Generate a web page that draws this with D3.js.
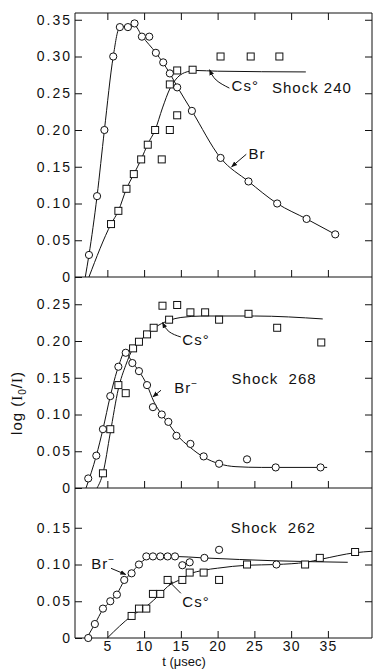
<!DOCTYPE html>
<html>
<head>
<meta charset="utf-8">
<script src="https://cdn.jsdelivr.net/npm/d3@7"></script>
<style>
  body { margin: 0; background: #fff; }
  svg { display: block; }
  text { font-family: "Liberation Sans", Arial, sans-serif; fill: #111; }
  .tick text { font-size: 14px; letter-spacing: 2px; }
  .xlab .tick text { font-size: 14px; letter-spacing: 1px; }
  .note { font-size: 15px; letter-spacing: 1px; }
</style>
</head>
<body>
<svg id="chart" width="373" height="670"></svg>
<script>
// time axis ticks (microseconds)
const tTicks = [5, 10, 15, 20, 25, 30, 35];

// Shock 240
const ticks240 = [0, 0.05, 0.10, 0.15, 0.20, 0.25, 0.30, 0.35];
const br240T = [2.5, 3.6, 4.6, 5.8, 6.7, 7.8, 8.7, 9.7, 10.7, 11.6, 12.6, 13.5, 14.5, 16.5, 20.4, 24.2, 28.1, 32.1, 36.0];
const br240V = [0.03, 0.11, 0.20, 0.30, 0.34, 0.34, 0.345, 0.327, 0.327, 0.305, 0.292, 0.277, 0.258, 0.226, 0.162, 0.13, 0.10, 0.079, 0.058];
const cs240T = [5.5, 6.5, 7.6, 8.6, 9.6, 12.4, 10.5, 11.5, 13.5, 14.5, 13.5, 14.5, 16.6, 20.4, 24.5, 28.4];
const cs240V = [0.072, 0.09, 0.12, 0.14, 0.16, 0.16, 0.18, 0.20, 0.20, 0.22, 0.262, 0.281, 0.282, 0.30, 0.30, 0.30];
const br240Fit = [[2.0, 0], [2.5, 0.03], [3.6, 0.11], [4.6, 0.20], [5.8, 0.30], [6.6, 0.338], [7.8, 0.342], [8.7, 0.342], [9.7, 0.328], [11.6, 0.305], [13.5, 0.277], [14.5, 0.259], [16.5, 0.226], [20.4, 0.162], [24.2, 0.13], [28.1, 0.10], [32.1, 0.079], [36.0, 0.058]];
const cs240Fit = [[2.5, 0], [5.5, 0.072], [6.5, 0.09], [7.6, 0.12], [8.6, 0.14], [9.6, 0.16], [10.5, 0.181], [11.5, 0.20], [12.5, 0.23], [13.5, 0.256], [14.5, 0.271], [15.5, 0.278], [17, 0.281], [20, 0.28], [32, 0.279]];

// Shock 268
const ticks268 = [0, 0.05, 0.10, 0.15, 0.20, 0.25];
const br268T = [2.4, 3.5, 4.4, 5.4, 6.5, 7.5, 8.4, 9.3, 10.4, 11.2, 12.4, 13.3, 14.4, 16.3, 18.1, 20.2, 24.0, 27.9, 34.0];
const br268V = [0.013, 0.044, 0.08, 0.125, 0.165, 0.184, 0.17, 0.159, 0.14, 0.11, 0.10, 0.09, 0.071, 0.06, 0.043, 0.033, 0.039, 0.028, 0.028];
const cs268T = [4.4, 5.4, 7.5, 6.5, 8.5, 9.3, 10.4, 11.3, 13.4, 12.5, 14.5, 16.3, 18.3, 20.2, 24.2, 28.1, 34.1];
const cs268V = [0.02, 0.08, 0.129, 0.14, 0.19, 0.199, 0.209, 0.218, 0.229, 0.248, 0.249, 0.239, 0.239, 0.229, 0.237, 0.218, 0.198];
const br268Fit = [[2.1, 0], [3.5, 0.044], [4.4, 0.08], [5.4, 0.125], [6.5, 0.165], [7.4, 0.185], [8.4, 0.171], [9.3, 0.159], [10.4, 0.14], [11.3, 0.118], [12.4, 0.10], [13.3, 0.088], [14.4, 0.073], [16.3, 0.055], [18.1, 0.042], [20.2, 0.033], [22.5, 0.029], [26, 0.028], [34.9, 0.028]];
const cs268Fit = [[3.6, 0], [4.4, 0.02], [5.4, 0.075], [6.5, 0.135], [7.5, 0.167], [8.5, 0.19], [9.3, 0.199], [10.4, 0.209], [11.3, 0.217], [13.4, 0.228], [15, 0.232], [18, 0.234], [25, 0.234], [34.3, 0.23]];

// Shock 262
const ticks262 = [0, 0.05, 0.10, 0.15];
const br262T = [2.4, 3.3, 4.4, 5.4, 6.3, 7.3, 8.3, 9.3, 10.3, 11.2, 12.2, 13.2, 14.2, 15.2, 16.2, 18.2, 20.2, 28.0];
const br262V = [0, 0.019, 0.04, 0.05, 0.059, 0.079, 0.088, 0.10, 0.111, 0.111, 0.111, 0.111, 0.111, 0.099, 0.103, 0.109, 0.12, 0.10];
const cs262T = [8.3, 9.3, 10.3, 11.2, 12.2, 13.2, 15.2, 16.2, 18.1, 20.2, 24.0, 31.9, 33.9, 38.7];
const cs262V = [0.03, 0.04, 0.04, 0.06, 0.06, 0.079, 0.079, 0.089, 0.089, 0.079, 0.10, 0.10, 0.109, 0.117];
const br262Fit = [[2.2, 0], [3.3, 0.019], [4.4, 0.039], [5.4, 0.05], [6.3, 0.06], [7.3, 0.078], [8.3, 0.089], [9.3, 0.10], [10.3, 0.108], [11.5, 0.111], [14, 0.111], [18, 0.109], [28, 0.105], [37.7, 0.103]];
const cs262Fit = [[5.0, 0], [8.3, 0.03], [10.3, 0.043], [12.2, 0.06], [13.2, 0.07], [15.2, 0.081], [16.2, 0.087], [18, 0.092], [20, 0.095], [24, 0.099], [28, 0.10], [32, 0.103], [34, 0.107], [38.7, 0.116], [41, 0.118]];

const svg = d3.select('#chart');

const x = d3.scaleLinear().domain([0.6, 41.0]).range([75, 372]);
const pxPerUnit = 735;

const panels = [
  { top: 13, zero: 277, ticks: ticks240, br: [br240T, br240V], cs: [cs240T, cs240V], brFit: br240Fit, csFit: cs240Fit,
    notes: [
      { text: 'Shock 240', t: 27.4, v: 0.250 },
      { text: 'Cs', sup: '°', t: 21.9, v: 0.253 },
      { text: 'Br', t: 24.2, v: 0.160 }
    ],
    leaders: [
      { pts: [[21.6, 0.257], [19.8, 0.268], [18.9, 0.282]], curved: true },
      { pts: [[23.9, 0.167], [21.9, 0.150]] }
    ] },
  { top: 277, zero: 488, ticks: ticks268, br: [br268T, br268V], cs: [cs268T, cs268V], brFit: br268Fit, csFit: cs268Fit,
    notes: [
      { text: 'Shock  268', t: 21.9, v: 0.1415 },
      { text: 'Cs', sup: '°', t: 15.2, v: 0.1946 },
      { text: 'Br', sup: '\u2212', t: 14.1, v: 0.129 }
    ],
    leaders: [
      { pts: [[15.0, 0.2054], [13.4, 0.2127], [12.5, 0.225]], curved: true },
      { pts: [[12.3, 0.133], [11.2, 0.124]] }
    ] },
  { top: 488, zero: 638, ticks: ticks262, br: [br262T, br262V], cs: [cs262T, cs262V], brFit: br262Fit, csFit: cs262Fit,
    notes: [
      { text: 'Shock  262', t: 21.8, v: 0.1424 },
      { text: 'Cs', sup: '°', t: 15.2, v: 0.0426 },
      { text: 'Br', sup: '\u2212', t: 2.8, v: 0.0939 }
    ],
    leaders: [
      { pts: [[15.0, 0.0608], [13.2, 0.0789]] },
      { pts: [[5.5, 0.0948], [7.5, 0.0864]] }
    ] }
];

svg.append('defs').append('marker')
  .attr('id', 'arrow')
  .attr('viewBox', '0 0 10 10')
  .attr('refX', 9).attr('refY', 5)
  .attr('markerWidth', 6).attr('markerHeight', 6)
  .attr('orient', 'auto-start-reverse')
  .append('path')
  .attr('d', 'M0,1 L10,5 L0,9 z')
  .attr('fill', '#111');

panels.forEach((p, i) => {
  const y = d3.scaleLinear()
    .domain([0, (p.zero - p.top) / pxPerUnit])
    .range([p.zero, p.top]);
  const g = svg.append('g');

  // left axis, ticks point inward
  g.append('g')
    .attr('transform', `translate(${x.range()[0]},0)`)
    .call(d3.axisLeft(y).tickValues(p.ticks).tickSize(-7).tickPadding(3)
      .tickFormat(d => d === 0 ? '0' : d3.format('.2f')(d)))
    .call(a => a.select('.domain').attr('d', `M0,${p.zero}V${p.top}`));

  // right axis
  g.append('g')
    .attr('transform', `translate(${x.range()[1]},0)`)
    .call(d3.axisRight(y).tickValues(p.ticks.filter(d => d > 0)).tickSize(-7).tickFormat(''))
    .call(a => a.select('.domain').attr('d', `M0,${p.zero}V${p.top}`));

  // zero line with upward ticks
  const bottom = g.append('g')
    .attr('class', i === 2 ? 'xlab' : '')
    .attr('transform', `translate(0,${p.zero})`)
    .call(d3.axisBottom(x).tickValues(tTicks).tickSize(-7).tickPadding(3)
      .tickFormat(i === 2 ? d3.format('d') : ''));
  bottom.select('.domain').attr('d', `M${x.range()[0]},0H${x.range()[1]}`);

  if (i === 0) {
    svg.append('g')
      .attr('transform', `translate(0,${p.top})`)
      .call(d3.axisTop(x).tickValues(tTicks).tickSize(-7).tickFormat(''))
      .call(a => a.select('.domain').attr('d', `M${x.range()[0]},0H${x.range()[1]}`));
  }

  const line = d3.line()
    .x(d => x(d[0])).y(d => y(d[1]))
    .curve(d3.curveMonotoneX);

  [p.brFit, p.csFit].forEach(fit => {
    g.append('path')
      .attr('d', line(fit))
      .attr('fill', 'none')
      .attr('stroke', '#111')
      .attr('stroke-width', 1);
  });

  p.leaders.forEach(l => {
    const ld = d3.line().x(d => x(d[0])).y(d => y(d[1]))
      .curve(l.curved ? d3.curveNatural : d3.curveLinear);
    g.append('path')
      .attr('d', ld(l.pts))
      .attr('fill', 'none')
      .attr('stroke', '#111')
      .attr('stroke-width', 1)
      .attr('marker-end', 'url(#arrow)');
  });

  // Br circles
  g.selectAll('circle.br')
    .data(d3.zip(p.br[0], p.br[1]))
    .join('circle')
    .attr('class', 'br')
    .attr('cx', d => x(d[0]))
    .attr('cy', d => y(d[1]))
    .attr('r', 3.6)
    .attr('fill', '#fff')
    .attr('stroke', '#111')
    .attr('stroke-width', 1);

  // Cs squares
  g.selectAll('rect.cs')
    .data(d3.zip(p.cs[0], p.cs[1]))
    .join('rect')
    .attr('class', 'cs')
    .attr('x', d => x(d[0]) - 3.5)
    .attr('y', d => y(d[1]) - 3.5)
    .attr('width', 7)
    .attr('height', 7)
    .attr('fill', '#fff')
    .attr('stroke', '#111')
    .attr('stroke-width', 1);

  p.notes.forEach(n => {
    const t = g.append('text')
      .attr('class', 'note')
      .attr('x', x(n.t))
      .attr('y', y(n.v))
      .attr('xml:space', 'preserve')
      .text(n.text);
    if (n.sup) {
      t.append('tspan')
        .attr('dy', n.sup === '°' ? 0 : -6)
        .attr('font-size', n.sup === '°' ? 15 : 10)
        .text(n.sup);
    }
  });
});

// axis titles
svg.append('text')
  .attr('x', 184)
  .attr('y', 666)
  .attr('text-anchor', 'middle')
  .attr('font-size', 13)
  .text('t (\u03bcsec)');

const yl = svg.append('text')
  .attr('class', 'note')
  .attr('transform', 'translate(22,403) rotate(-90)')
  .attr('text-anchor', 'middle')
  .attr('letter-spacing', 2);
yl.append('tspan').text('log (');
yl.append('tspan').attr('font-family', 'Liberation Serif, serif').text('I');
yl.append('tspan').attr('font-size', 10).attr('dy', 4).text('0');
yl.append('tspan').attr('dy', -4).text('/');
yl.append('tspan').attr('font-family', 'Liberation Serif, serif').text('I');
yl.append('tspan').text(')');

svg.selectAll('.domain, .tick line').attr('stroke', '#111');
</script>
</body>
</html>
